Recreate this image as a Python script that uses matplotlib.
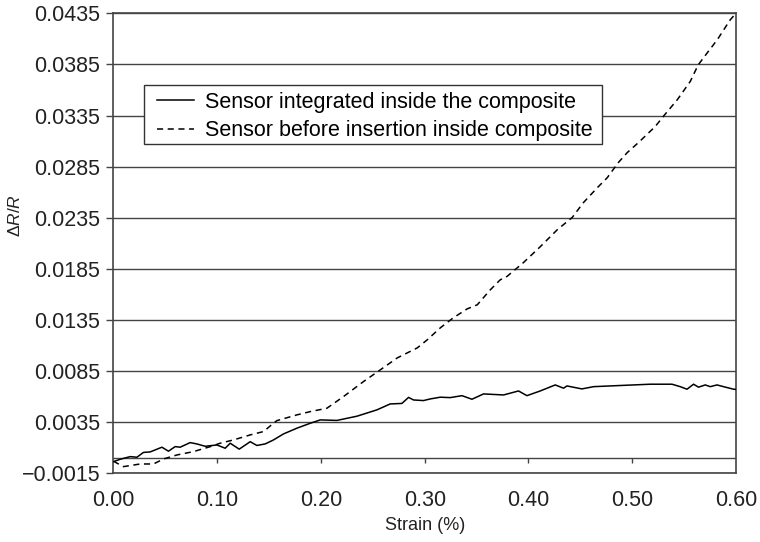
import matplotlib
matplotlib.use("Agg")
import matplotlib.pyplot as plt
from matplotlib.patches import Rectangle
import numpy as np

plt.rcParams['font.family'] = ['Liberation Sans', 'DejaVu Sans']
plt.rcParams['mathtext.fontset'] = 'custom'
plt.rcParams['mathtext.rm'] = 'Liberation Sans'
plt.rcParams['mathtext.it'] = 'Liberation Sans:italic'

# Data
strain_solid = [0.0, 0.0065, 0.0161, 0.0226, 0.0289, 0.0354, 0.0467, 0.053, 0.0595, 0.0643,
                0.0739, 0.0804, 0.0884, 0.0997, 0.1077, 0.1125, 0.1212, 0.1318, 0.1382, 0.1462,
                0.1542, 0.1639, 0.1768, 0.1896, 0.1993, 0.2154, 0.2346, 0.2539, 0.2667, 0.278,
                0.2844, 0.2892, 0.2988, 0.3053, 0.315, 0.3246, 0.3359, 0.3455, 0.3567, 0.376,
                0.3904, 0.3985, 0.4113, 0.4258, 0.4338, 0.4371, 0.4515, 0.4627, 0.4853, 0.5174,
                0.5383, 0.5463, 0.5528, 0.5591, 0.5639, 0.5704, 0.5752, 0.5817, 0.588, 0.5977, 0.6]
dr_solid = [-0.00034, -0.00011, 0.00015, 0.00009, 0.00056, 0.00061, 0.00107, 0.00068, 0.00113, 0.00107,
            0.00152, 0.00139, 0.00116, 0.00129, 0.00097, 0.00146, 0.00088, 0.00161, 0.00124, 0.00139,
            0.00178, 0.00237, 0.00293, 0.00341, 0.00374, 0.00369, 0.0041, 0.00472, 0.0053, 0.00535,
            0.00594, 0.00569, 0.00563, 0.00579, 0.00596, 0.00592, 0.00611, 0.00576, 0.00628, 0.00618,
            0.00657, 0.00611, 0.00657, 0.00716, 0.00684, 0.00706, 0.00677, 0.00699, 0.00709, 0.00723,
            0.00723, 0.00699, 0.00674, 0.00723, 0.00694, 0.00716, 0.00699, 0.00716, 0.00699, 0.00674, 0.00672]

strain_dashed = [0.0, 0.0096, 0.0257, 0.0386, 0.0482, 0.0611, 0.0771, 0.0931, 0.1028, 0.1156,
                 0.1317, 0.1446, 0.1542, 0.1575, 0.1768, 0.1896, 0.2057, 0.2217, 0.241, 0.2571,
                 0.2735, 0.2928, 0.3024, 0.315, 0.3275, 0.341, 0.3506, 0.3632, 0.3728, 0.3792,
                 0.3949, 0.4113, 0.4277, 0.4422, 0.4528, 0.4663, 0.4759, 0.4865, 0.4951, 0.5058,
                 0.5222, 0.5299, 0.5434, 0.5559, 0.5636, 0.5723, 0.5819, 0.5945, 0.6]
dr_dashed = [-0.0003, -0.00083, -0.00057, -0.00057, -0.00008, 0.00031, 0.00064, 0.00112, 0.00146, 0.00178,
             0.00227, 0.0026, 0.00341, 0.00367, 0.00423, 0.00455, 0.00488, 0.00602, 0.00749, 0.00863,
             0.0098, 0.01078, 0.01157, 0.01274, 0.01372, 0.0146, 0.01499, 0.01646, 0.01744, 0.01776,
             0.0191, 0.02067, 0.02233, 0.02354, 0.02497, 0.02644, 0.02742, 0.02889, 0.02987, 0.03084,
             0.03243, 0.03341, 0.03504, 0.03683, 0.03846, 0.03963, 0.0409, 0.04287, 0.0435]

x_ticks = [0.0, 0.1, 0.2, 0.3, 0.4, 0.5, 0.6]
x_ticklabels = ["0.00", "0.10", "0.20", "0.30", "0.40", "0.50", "0.60"]
y_ticks = [-0.0015, 0.0035, 0.0085, 0.0135, 0.0185, 0.0235, 0.0285, 0.0335, 0.0385, 0.0435]
y_ticklabels = ["\u22120.0015", "0.0035", "0.0085", "0.0135", "0.0185", "0.0235",
                "0.0285", "0.0335", "0.0385", "0.0435"]

label_solid = "Sensor integrated inside the composite"
label_dashed = "Sensor before insertion inside composite"

fig = plt.figure(figsize=(7.6, 5.42), dpi=100)
ax = fig.add_axes([0.1493, 0.1264, 0.8191, 0.8491])

grid_c = '#444444'
for yt in y_ticks:
    ax.axhline(yt, color=grid_c, lw=1.0, zorder=1)
ax.axhline(0, color=grid_c, lw=1.0, zorder=1)
ax.vlines(x_ticks[1:-1], -0.0005, 0, color=grid_c, lw=1.0, zorder=1)

ax.plot(strain_solid, dr_solid, color='black', lw=1.1, label=label_solid, zorder=3)
ax.plot(strain_dashed, dr_dashed, color='black', lw=1.1, ls=(0, (4, 3)), label=label_dashed, zorder=3)

ax.set_xlim(0, 0.6)
ax.set_ylim(-0.0015, 0.0435)
ax.set_xticks(x_ticks)
ax.set_xticklabels(x_ticklabels)
ax.set_yticks(y_ticks)
ax.set_yticklabels(y_ticklabels)
ax.tick_params(axis='x', length=0, pad=12, labelsize=15.5, colors='#222222')
ax.tick_params(axis='y', length=5, width=1.0, pad=4.5, labelsize=15.5, colors='#222222', color=grid_c)
for s in ax.spines.values():
    s.set_color('#444444')
    s.set_linewidth(1.2)

ax.set_xlabel("Strain (%)", fontsize=13, labelpad=4, color='#222222')
ax.set_ylabel(r"$\Delta\mathit{R/R}$", fontsize=12.5, color='#222222')
ax.yaxis.set_label_coords(-0.145, 0.56)

# legend box
box = Rectangle((0.049, 0.7157), 0.735, 0.1289, transform=ax.transAxes,
                facecolor='white', edgecolor='#333333', lw=1.0, zorder=4)
ax.add_patch(box)
leg = ax.legend(loc='upper left', bbox_to_anchor=(0.0694, 0.8293), borderaxespad=0,
                frameon=False, fontsize=15.5, borderpad=0,
                handlelength=1.75, handletextpad=0.5, labelspacing=0.34)
leg.set_zorder(5)

fig.savefig("out.png", dpi=100)
